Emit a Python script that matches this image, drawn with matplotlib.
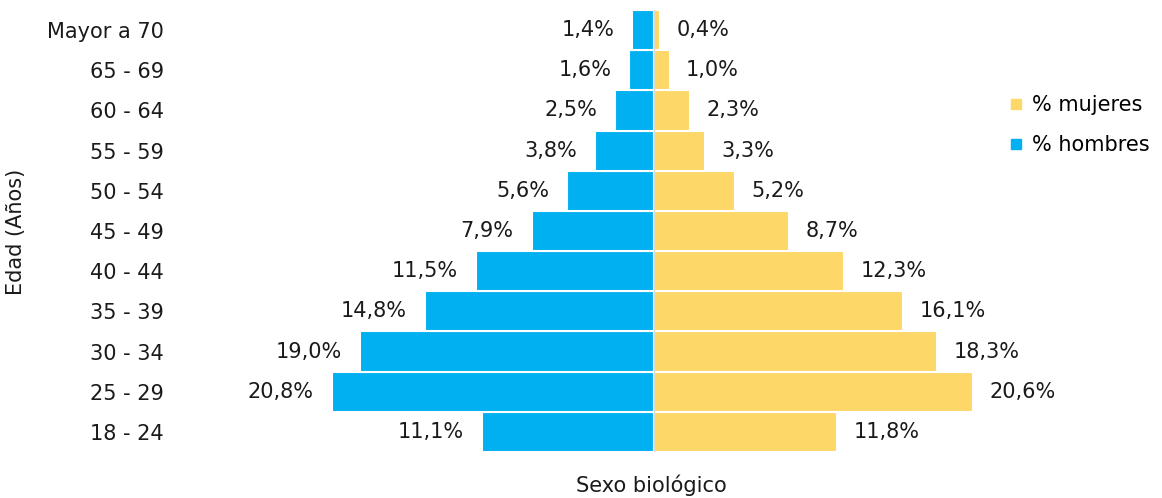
import matplotlib.pyplot as plt
from matplotlib.lines import Line2D

plt.rcParams['font.family'] = ['DejaVu Sans']

# Age groups (bottom to top)
ages = ["18 - 24", "25 - 29", "30 - 34", "35 - 39", "40 - 44", "45 - 49",
        "50 - 54", "55 - 59", "60 - 64", "65 - 69", "Mayor a 70"]
hombres = [11.1, 20.8, 19.0, 14.8, 11.5, 7.9, 5.6, 3.8, 2.5, 1.6, 1.4]
mujeres = [11.8, 20.6, 18.3, 16.1, 12.3, 8.7, 5.2, 3.3, 2.3, 1.0, 0.4]

blue = "#00B0F0"
yellow = "#FDD767"
txt = "#1a1a1a"
fs = 15

fig = plt.figure(figsize=(11.62, 4.98), dpi=100)
ax = fig.add_axes([200 / 1162, 1 - 452 / 498, 800 / 1162, 442 / 498])

y = range(len(ages))
ax.barh(y, [-v for v in hombres], height=1.0, color=blue, edgecolor="white", linewidth=1.5)
ax.barh(y, mujeres, height=1.0, color=yellow, edgecolor="white", linewidth=1.5)
ax.axvline(0, color="#d9d9d9", linewidth=1)

fmt = lambda v: f"{v:.1f}%".replace(".", ",")
for i, (h, m) in enumerate(zip(hombres, mujeres)):
    ax.annotate(fmt(h), (-h, i), xytext=(-13, 0), textcoords="offset points",
                ha="right", va="center", fontsize=fs, color=txt)
    ax.annotate(fmt(m), (m, i), xytext=(12, 0), textcoords="offset points",
                ha="left", va="center", fontsize=fs, color=txt)

ax.set_xlim(-29.33, 22.35)
ax.set_ylim(-0.5, 10.5)
ax.set_yticks(list(y))
ax.set_yticklabels(ages, fontsize=fs, color=txt)
ax.tick_params(axis="y", length=0, pad=26)
ax.set_xticks([])
for s in ax.spines.values():
    s.set_visible(False)

fig.text(651 / 1162, 1 - 485 / 498, "Sexo biológico", ha="center", va="center",
         fontsize=fs, color=txt)
fig.text(16 / 1162, 1 - 232 / 498, "Edad (Años)", ha="center", va="center",
         rotation=90, fontsize=fs, color=txt)

handles = [Line2D([], [], marker="s", linestyle="", color=yellow, markersize=7),
           Line2D([], [], marker="s", linestyle="", color=blue, markersize=7)]
fig.legend(handles, ["% mujeres", "% hombres"], loc="center left",
           bbox_to_anchor=(985 / 1162, 1 - 125 / 498), frameon=False,
           fontsize=fs, handletextpad=0.15, labelspacing=0.95, handlelength=1.2)

fig.savefig("out.png", dpi=100)
